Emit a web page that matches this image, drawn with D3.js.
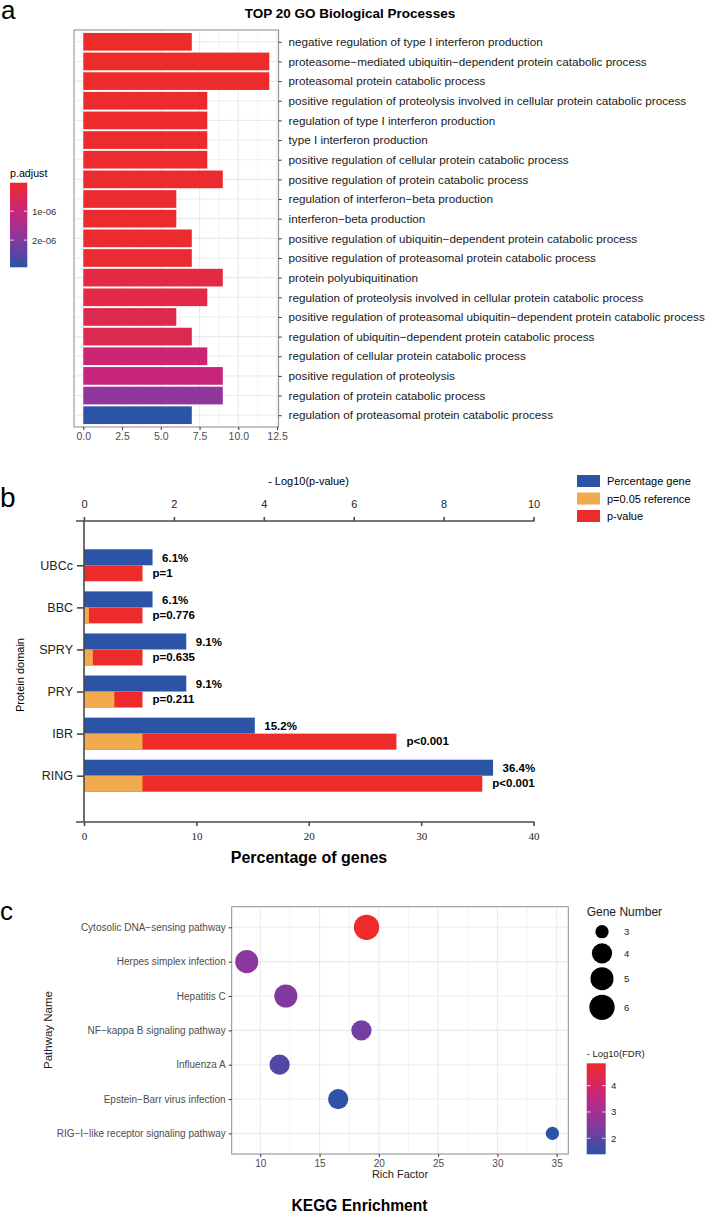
<!DOCTYPE html>
<html>
<head>
<meta charset="utf-8">
<title>GO / protein domain / KEGG enrichment</title>
<style>
  body { margin: 0; background: #fff; }
  svg { font-family: "Liberation Sans", Arial, sans-serif; display: block; }
</style>
</head>
<body>
<svg width="709" height="1216"></svg>
<script src="https://cdn.jsdelivr.net/npm/d3@7/dist/d3.min.js"></script>
<script>
// ---------- panel a : GO biological processes
var goTerms = [
  "negative regulation of type I interferon production",
  "proteasome\u2212mediated ubiquitin\u2212dependent protein catabolic process",
  "proteasomal protein catabolic process",
  "positive regulation of proteolysis involved in cellular protein catabolic process",
  "regulation of type I interferon production",
  "type I interferon production",
  "positive regulation of cellular protein catabolic process",
  "positive regulation of protein catabolic process",
  "regulation of interferon\u2212beta production",
  "interferon\u2212beta production",
  "positive regulation of ubiquitin\u2212dependent protein catabolic process",
  "positive regulation of proteasomal protein catabolic process",
  "protein polyubiquitination",
  "regulation of proteolysis involved in cellular protein catabolic process",
  "positive regulation of proteasomal ubiquitin\u2212dependent protein catabolic process",
  "regulation of ubiquitin\u2212dependent protein catabolic process",
  "regulation of cellular protein catabolic process",
  "positive regulation of proteolysis",
  "regulation of protein catabolic process",
  "regulation of proteasomal protein catabolic process"
];
var goCounts = [7, 12, 12, 8, 8, 8, 8, 9, 6, 6, 7, 7, 9, 8, 6, 7, 8, 9, 9, 7];
var goPadj = [2e-8, 1.5e-8, 2e-8, 3e-8, 4e-8, 4e-8, 5e-8, 6e-8, 6e-8, 7e-8,
              8e-8, 9e-8, 3e-7, 3.3e-7, 4.5e-7, 5e-7, 9e-7, 1e-6, 1.85e-6, 2.94e-6];
var goTicks = [0, 2.5, 5, 7.5, 10, 12.5];
var padjTicks = [1e-6, 2e-6];
var padjTickLabels = ["1e-06", "2e-06"];

// ---------- panel b : protein domains
var domains = ["UBCc", "BBC", "SPRY", "PRY", "IBR", "RING"];
var domainPct = [6.1, 6.1, 9.1, 9.1, 15.2, 36.4];
var domainLogP = [0, 0.11, 0.197, 0.676, 6.95, 8.86];
var domainPLabels = ["p=1", "p=0.776", "p=0.635", "p=0.211", "p<0.001", "p<0.001"];
var refLogP = 1.301;
var logPTicks = [0, 2, 4, 6, 8, 10];
var pctTicks = [0, 10, 20, 30, 40];
var domainLegend = ["Percentage gene", "p=0.05 reference", "p-value"];

// ---------- panel c : KEGG
var pathways = [
  "Cytosolic DNA\u2212sensing pathway",
  "Herpes simplex infection",
  "Hepatitis C",
  "NF\u2212kappa B signaling pathway",
  "Influenza A",
  "Epstein\u2212Barr virus infection",
  "RIG\u2212I\u2212like receptor signaling pathway"
];
var richFactor = [18.96, 8.86, 12.16, 18.53, 11.63, 16.57, 34.64];
var geneNumber = [6, 5, 5, 4, 4, 4, 3];
var logFdr = [4.85, 2.55, 2.43, 2.28, 1.85, 1.42, 1.39];
var richTicks = [10, 15, 20, 25, 30, 35];
var sizeLegend = [3, 4, 5, 6];
var fdrTicks = [2, 3, 4];

var svg = d3.select("svg");
var defs = svg.append("defs");
var red = "#ee2b2b", blue = "#2b53a6", orange = "#f2aa4e";
// red -> magenta -> purple -> blue, as the reference gradients run
var rampCols = [red, "#c9267a", "#8a389e", blue];
var gridCol = "#ebebeb", borderCol = "#8a8a8a";

function ramp(lo, hi) {
  return d3.scaleLinear()
      .domain([lo, lo + (hi - lo) / 3, lo + 2 * (hi - lo) / 3, hi])
      .range(rampCols);
}

function gradient(id, scale, lo, hi) {
  var g = defs.append("linearGradient").attr("id", id)
      .attr("x1", 0).attr("y1", 0).attr("x2", 0).attr("y2", 1);
  d3.range(0, 1.0001, 0.05).forEach(function(t) {
    g.append("stop").attr("offset", t).attr("stop-color", scale(lo + t * (hi - lo)));
  });
}

// ================= panel a
var padjColor = ramp(1.5e-8, 2.94e-6);
var xA = d3.scaleLinear().domain([-0.6, 12.6]).range([74, 278.6]);
var yA = d3.scalePoint().domain(goTerms).range([30, 427]).padding(0.6);
var gA = svg.append("g");

gA.selectAll(".minor").data(d3.range(1.25, 12.6, 2.5)).enter().append("line")
    .attr("x1", xA).attr("x2", xA).attr("y1", 30).attr("y2", 427)
    .attr("stroke", gridCol).attr("stroke-width", 0.6);
gA.selectAll(".major").data(goTicks).enter().append("line")
    .attr("x1", xA).attr("x2", xA).attr("y1", 30).attr("y2", 427)
    .attr("stroke", gridCol).attr("stroke-width", 1.1);
gA.selectAll(".hgrid").data(goTerms).enter().append("line")
    .attr("x1", 74).attr("x2", 278.6).attr("y1", yA).attr("y2", yA)
    .attr("stroke", gridCol).attr("stroke-width", 1.1);

gA.selectAll(".bar").data(goTerms).enter().append("rect")
    .attr("x", xA(0))
    .attr("y", function(d) { return yA(d) - yA.step() * 0.45; })
    .attr("width", function(d, i) { return xA(goCounts[i]) - xA(0); })
    .attr("height", yA.step() * 0.9)
    .attr("fill", function(d, i) { return padjColor(goPadj[i]); });

gA.append("rect").attr("x", 74).attr("y", 30).attr("width", 204.6).attr("height", 397)
    .attr("fill", "none").attr("stroke", borderCol);

var axA = gA.append("g").attr("transform", "translate(278.6,0)")
    .call(d3.axisRight(yA).tickSize(3).tickPadding(7));
axA.select(".domain").remove();
axA.selectAll("line").attr("stroke", "#333");
axA.selectAll("text").attr("font-size", "11.7px").attr("fill", "#1a1a1a")
    .attr("font-family", "Liberation Sans, Arial, sans-serif");

var axAb = gA.append("g").attr("transform", "translate(0,427)")
    .call(d3.axisBottom(xA).tickValues(goTicks).tickFormat(d3.format(".1f")).tickSize(3).tickPadding(3));
axAb.select(".domain").remove();
axAb.selectAll("line").attr("stroke", "#333");
axAb.selectAll("text").attr("font-size", "10.5px").attr("fill", "#4d4d4d")
    .attr("font-family", "Liberation Sans, Arial, sans-serif");

gA.append("text").attr("x", 350).attr("y", 18).attr("text-anchor", "middle")
    .attr("font-size", "13.5px").attr("font-weight", "bold").text("TOP 20 GO Biological Processes");

// legend a
gradient("gradA", padjColor, 1.5e-8, 2.94e-6);
var lyA = d3.scaleLinear().domain([1.5e-8, 2.94e-6]).range([182.7, 267.3]);
gA.append("text").attr("x", 10).attr("y", 177).attr("font-size", "10.7px").text("p.adjust");
gA.append("rect").attr("x", 10).attr("y", 182.7).attr("width", 17.3).attr("height", 84.6)
    .attr("fill", "url(#gradA)");
padjTicks.forEach(function(t, i) {
  gA.append("line").attr("x1", 10).attr("x2", 13.5).attr("y1", lyA(t)).attr("y2", lyA(t))
      .attr("stroke", "#fff").attr("stroke-width", 0.8);
  gA.append("line").attr("x1", 23.8).attr("x2", 27.3).attr("y1", lyA(t)).attr("y2", lyA(t))
      .attr("stroke", "#fff").attr("stroke-width", 0.8);
  gA.append("text").attr("x", 32).attr("y", lyA(t) + 3.5).attr("font-size", "9.5px")
      .attr("fill", "#333").text(padjTickLabels[i]);
});

svg.append("text").attr("x", 1).attr("y", 19).attr("font-size", "26px").text("a");

// ================= panel b
var xTop = d3.scaleLinear().domain([0, 10]).range([84, 533.5]);
var xBot = d3.scaleLinear().domain([0, 40]).range([84, 533.5]);
var yB = d3.scalePoint().domain(domains).range([519, 822]).padding(1.1);
var gB = svg.append("g");
var half = 16;

gB.selectAll(".pct").data(domains).enter().append("rect")
    .attr("x", xBot(0)).attr("y", function(d) { return yB(d) - half; })
    .attr("width", function(d, i) { return xBot(domainPct[i]) - xBot(0); })
    .attr("height", half).attr("fill", blue);
gB.selectAll(".pv").data(domains).enter().append("rect")
    .attr("x", xTop(0)).attr("y", yB)
    .attr("width", function(d, i) { return xTop(Math.max(domainLogP[i], refLogP)) - xTop(0); })
    .attr("height", half).attr("fill", red);
gB.selectAll(".ref").data(domains).enter().append("rect")
    .attr("x", xTop(0)).attr("y", yB)
    .attr("width", function(d, i) { return xTop(Math.min(domainLogP[i], refLogP)) - xTop(0); })
    .attr("height", half).attr("fill", orange);

gB.selectAll(".pctLab").data(domains).enter().append("text")
    .attr("x", function(d, i) { return xBot(domainPct[i]) + 9.5; })
    .attr("y", function(d) { return yB(d) - half / 2 + 4.5; })
    .attr("font-size", "11.5px").attr("font-weight", "bold")
    .text(function(d, i) { return domainPct[i] + "%"; });
gB.selectAll(".pLab").data(domains).enter().append("text")
    .attr("x", function(d, i) { return xTop(Math.max(domainLogP[i], refLogP)) + 10; })
    .attr("y", function(d) { return yB(d) + half / 2 + 3.5; })
    .attr("font-size", "11.5px").attr("font-weight", "bold")
    .text(function(d, i) { return domainPLabels[i]; });

// axes b
var axStroke = "#4a4a4a";
gB.append("line").attr("x1", 76).attr("x2", 534.5).attr("y1", 521).attr("y2", 521)
    .attr("stroke", axStroke).attr("stroke-width", 1.6);
gB.append("line").attr("x1", 76).attr("x2", 534.5).attr("y1", 822).attr("y2", 822)
    .attr("stroke", axStroke).attr("stroke-width", 1.6);
gB.append("line").attr("x1", 84).attr("x2", 84).attr("y1", 521).attr("y2", 822)
    .attr("stroke", axStroke).attr("stroke-width", 1.6);

var axBt = gB.append("g").attr("transform", "translate(0,521)")
    .call(d3.axisTop(xTop).tickValues(logPTicks).tickSize(4).tickPadding(9));
axBt.select(".domain").remove();
axBt.selectAll("line").attr("stroke", axStroke).attr("stroke-width", 1.6);
axBt.selectAll("text").attr("font-size", "11px").attr("fill", "#222")
    .attr("font-family", "Liberation Sans, Arial, sans-serif");

var axBb = gB.append("g").attr("transform", "translate(0,822)")
    .call(d3.axisBottom(xBot).tickValues(pctTicks).tickSize(4).tickPadding(6));
axBb.select(".domain").remove();
axBb.selectAll("line").attr("stroke", axStroke).attr("stroke-width", 1.6);
axBb.selectAll("text").attr("font-size", "11px").attr("fill", "#222")
    .attr("font-family", "Liberation Serif, Times New Roman, serif");

var axBl = gB.append("g").attr("transform", "translate(84,0)")
    .call(d3.axisLeft(yB).tickSize(7).tickPadding(4));
axBl.select(".domain").remove();
axBl.selectAll("line").attr("stroke", axStroke).attr("stroke-width", 1.6);
axBl.selectAll("text").attr("font-size", "12.5px").attr("fill", "#222")
    .attr("font-family", "Liberation Sans, Arial, sans-serif");

gB.append("text").attr("x", 308.5).attr("y", 485).attr("text-anchor", "middle")
    .attr("font-size", "11px").text("- Log10(p-value)");
gB.append("text").attr("x", 309).attr("y", 863).attr("text-anchor", "middle")
    .attr("font-size", "16px").attr("font-weight", "bold").text("Percentage of genes");
gB.append("text").attr("transform", "translate(24,675) rotate(-90)").attr("text-anchor", "middle")
    .attr("font-size", "11px").text("Protein domain");

var legCols = [blue, orange, red];
domainLegend.forEach(function(name, i) {
  var y = 475 + i * 17.5;
  gB.append("rect").attr("x", 577).attr("y", y).attr("width", 23).attr("height", 12)
      .attr("fill", legCols[i]);
  gB.append("text").attr("x", 607).attr("y", y + 10).attr("font-size", "11px").text(name);
});

svg.append("text").attr("x", 0).attr("y", 507).attr("font-size", "28px").text("b");

// ================= panel c
var fdrColor = ramp(4.85, 1.39);
var xC = d3.scaleLinear().domain([7.59, 35.98]).range([231.7, 568.3]);
var yC = d3.scalePoint().domain(pathways).range([906.7, 1154]).padding(0.6);
var radiusPart = d3.scaleLinear().domain([0, 1]).range([6.65, 12.65]);
function radius(v) { return radiusPart(Math.sqrt((v - 3) / 3)); }
var gC = svg.append("g");

gC.selectAll(".minor").data(d3.range(12.5, 35, 5)).enter().append("line")
    .attr("x1", xC).attr("x2", xC).attr("y1", 906.7).attr("y2", 1154)
    .attr("stroke", gridCol).attr("stroke-width", 0.6);
gC.selectAll(".major").data(richTicks).enter().append("line")
    .attr("x1", xC).attr("x2", xC).attr("y1", 906.7).attr("y2", 1154)
    .attr("stroke", gridCol).attr("stroke-width", 1.1);
gC.selectAll(".hgrid").data(pathways).enter().append("line")
    .attr("x1", 231.7).attr("x2", 568.3).attr("y1", yC).attr("y2", yC)
    .attr("stroke", gridCol).attr("stroke-width", 1.1);

gC.selectAll(".dot").data(pathways).enter().append("circle")
    .attr("cx", function(d, i) { return xC(richFactor[i]); })
    .attr("cy", yC)
    .attr("r", function(d, i) { return radius(geneNumber[i]); })
    .attr("fill", function(d, i) { return fdrColor(logFdr[i]); });

gC.append("rect").attr("x", 231.7).attr("y", 906.7).attr("width", 336.6).attr("height", 247.3)
    .attr("fill", "none").attr("stroke", borderCol);

var axCl = gC.append("g").attr("transform", "translate(231.7,0)")
    .call(d3.axisLeft(yC).tickSize(3).tickPadding(3));
axCl.select(".domain").remove();
axCl.selectAll("line").attr("stroke", "#333");
axCl.selectAll("text").attr("font-size", "10px").attr("fill", "#4d4d4d")
    .attr("font-family", "Liberation Sans, Arial, sans-serif");

var axCb = gC.append("g").attr("transform", "translate(0,1154)")
    .call(d3.axisBottom(xC).tickValues(richTicks).tickSize(3).tickPadding(3));
axCb.select(".domain").remove();
axCb.selectAll("line").attr("stroke", "#333");
axCb.selectAll("text").attr("font-size", "10px").attr("fill", "#4d4d4d")
    .attr("font-family", "Liberation Sans, Arial, sans-serif");

gC.append("text").attr("x", 400).attr("y", 1178).attr("text-anchor", "middle")
    .attr("font-size", "11px").attr("fill", "#222").text("Rich Factor");
gC.append("text").attr("transform", "translate(52,1030) rotate(-90)").attr("text-anchor", "middle")
    .attr("font-size", "11.5px").attr("fill", "#222").text("Pathway Name");
gC.append("text").attr("x", 359.5).attr("y", 1211).attr("text-anchor", "middle")
    .attr("font-size", "15.6px").attr("font-weight", "bold").text("KEGG Enrichment");

// legend c : size
gC.append("text").attr("x", 586.7).attr("y", 916).attr("font-size", "12px").attr("fill", "#222")
    .text("Gene Number");
var sizeY = [931.7, 953.3, 978.7, 1007.3];
sizeLegend.forEach(function(v, i) {
  gC.append("circle").attr("cx", 602).attr("cy", sizeY[i]).attr("r", radius(v)).attr("fill", "#000");
  gC.append("text").attr("x", 624).attr("y", sizeY[i] + 3.5).attr("font-size", "9.5px")
      .attr("fill", "#222").text(v);
});

// legend c : colour
gradient("gradC", fdrColor, 4.85, 1.39);
var lyC = d3.scaleLinear().domain([4.85, 1.39]).range([1063.3, 1154.3]);
gC.append("text").attr("x", 586.7).attr("y", 1057).attr("font-size", "9.5px").attr("fill", "#222")
    .text("- Log10(FDR)");
gC.append("rect").attr("x", 586.7).attr("y", 1063.3).attr("width", 19).attr("height", 91)
    .attr("fill", "url(#gradC)");
fdrTicks.forEach(function(t) {
  gC.append("line").attr("x1", 586.7).attr("x2", 590.5).attr("y1", lyC(t)).attr("y2", lyC(t))
      .attr("stroke", "#fff").attr("stroke-width", 0.8);
  gC.append("line").attr("x1", 601.9).attr("x2", 605.7).attr("y1", lyC(t)).attr("y2", lyC(t))
      .attr("stroke", "#fff").attr("stroke-width", 0.8);
  gC.append("text").attr("x", 611).attr("y", lyC(t) + 3.5).attr("font-size", "9.5px")
      .attr("fill", "#222").text(t);
});

svg.append("text").attr("x", 0).attr("y", 920).attr("font-size", "26px").text("c");
</script>
</body>
</html>
